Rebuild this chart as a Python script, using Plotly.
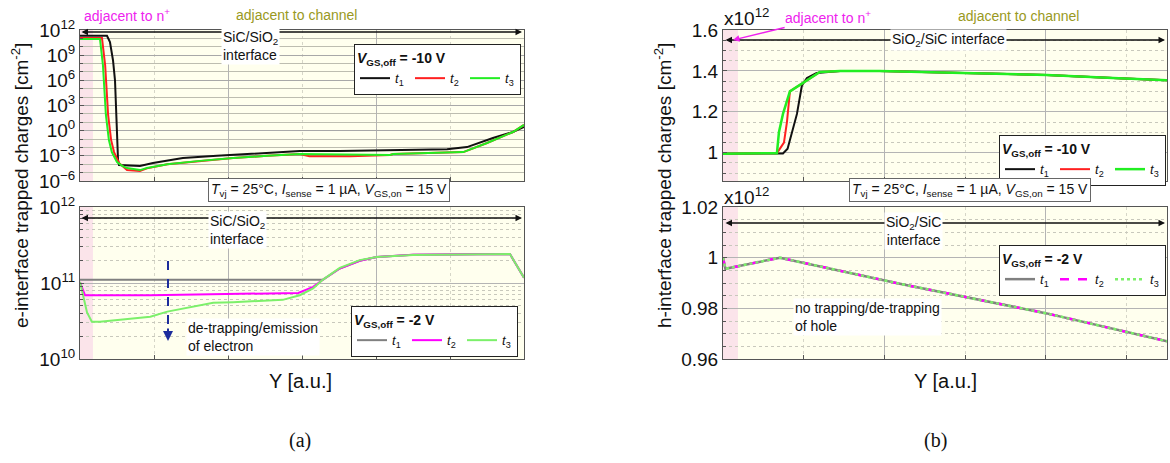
import plotly.graph_objects as go

W, H = 1170, 463
def px(x): return x / W
def py(y): return 1 - y / H

FONT = "Liberation Sans"

# ---------------- (a) upper panel: V_GS,off = -10 V (e-interface trapped charges, cm^-2)
a1_t1_x = [0.0, 0.365, 0.405, 0.446, 0.473, 0.493, 0.514, 0.527, 0.81, 0.986, 1.39, 1.85, 2.53, 2.97, 3.51, 4.96, 5.23, 5.58, 5.85, 6.0]
a1_t1_y = [2.0e11, 2.0e11, 3.7e10, 2.5e8, 1.0e6, 20.0, 3.2e-4, 8.0e-5, 6.3e-5, 1.4e-4, 5.6e-4, 1.0e-3, 2.2e-3, 3.8e-3, 3.8e-3, 6.3e-3, 1.1e-2, 0.135, 0.69, 2.75]
a1_t2_x = [0.0, 0.297, 0.34, 0.38, 0.42, 0.46, 0.527, 0.635, 0.81, 0.905, 1.18, 1.62, 2.07, 2.53, 2.97, 3.1, 3.65, 4.19, 4.23, 5.18, 5.5, 5.85, 6.0]
a1_t2_y = [1.1e11, 1.1e11, 6.3e7, 74.0, 0.08, 2.8e-3, 1.4e-4, 2.0e-5, 1.6e-5, 3.2e-5, 1.0e-4, 2.5e-4, 5.6e-4, 1.0e-3, 1.6e-3, 0.9e-3, 0.9e-3, 1.26e-3, 1.6e-3, 2.8e-3, 3.4e-2, 0.69, 4.8]
a1_t3_x = [0.0, 0.27, 0.31, 0.35, 0.39, 0.43, 0.5, 0.57, 0.635, 0.81, 0.905, 1.18, 1.62, 2.07, 2.53, 2.97, 4.19, 4.23, 5.18, 5.5, 5.85, 6.0]
a1_t3_y = [8.5e10, 8.5e10, 6.3e7, 74.0, 0.08, 2.8e-3, 1.8e-4, 6.3e-5, 3.5e-5, 2.0e-5, 3.5e-5, 1.0e-4, 2.5e-4, 5.6e-4, 1.0e-3, 1.6e-3, 1.26e-3, 1.6e-3, 2.8e-3, 3.4e-2, 0.69, 4.8]

# ---------------- (a) lower panel: V_GS,off = -2 V
a2_t1_x = [0.0, 3.28, 3.51, 3.78, 4.01, 4.5, 5.81, 6.0]
a2_t1_y = [1.1e11, 1.1e11, 1.55e11, 1.96e11, 2.2e11, 2.36e11, 2.4e11, 1.17e11]
a2_t2_x = [0.0, 0.068, 0.95, 2.3, 2.95, 3.15, 3.28, 3.51, 3.78, 4.01, 4.5, 5.81, 6.0]
a2_t2_y = [1.03e11, 6.9e10, 6.9e10, 7.2e10, 7.4e10, 8.9e10, 1.1e11, 1.55e11, 1.96e11, 2.2e11, 2.36e11, 2.4e11, 1.17e11]
a2_t3_x = [0.0, 0.095, 0.16, 0.27, 0.95, 1.18, 1.8, 2.07, 2.74, 2.97, 3.15, 3.28, 3.51, 3.78, 4.01, 4.5, 5.81, 6.0]
a2_t3_y = [1.03e11, 4.1e10, 3.1e10, 3.1e10, 3.6e10, 4.2e10, 5.5e10, 5.6e10, 6.0e10, 6.9e10, 8.5e10, 1.1e11, 1.58e11, 2.0e11, 2.2e11, 2.34e11, 2.4e11, 1.17e11]

# ---------------- (b) upper panel: V_GS,off = -10 V (h-interface trapped charges, x10^12 cm^-2)
b1_t1_x = [0.0, 0.743, 0.80, 0.866, 0.916, 0.978, 1.04, 1.16, 1.45, 1.94, 2.97, 4.01, 4.83, 5.5]
b1_t1_y = [0.995, 0.997, 1.02, 1.11, 1.19, 1.33, 1.365, 1.39, 1.40, 1.40, 1.39, 1.38, 1.366, 1.355]
b1_t2_x = [0.0, 0.668, 0.755, 0.792, 0.829, 0.99, 1.2, 1.45, 1.94, 2.97, 4.01, 4.83, 5.5]
b1_t2_y = [0.995, 0.998, 1.05, 1.15, 1.30, 1.34, 1.395, 1.40, 1.40, 1.39, 1.38, 1.366, 1.355]
b1_t3_x = [0.0, 0.668, 0.693, 0.743, 0.829, 0.99, 1.2, 1.45, 1.94, 2.97, 4.01, 4.83, 5.5]
b1_t3_y = [0.995, 0.998, 1.10, 1.19, 1.30, 1.34, 1.395, 1.40, 1.40, 1.39, 1.38, 1.366, 1.355]

# ---------------- (b) lower panel: V_GS,off = -2 V
b2_t1_x = [0.0, 0.03, 0.705, 1.94, 2.19, 4.01, 5.5]
b2_t1_y = [1.0, 0.9956, 1.0, 0.9915, 0.9897, 0.978, 0.967]
b2_t2_x = [0.0, 0.03, 0.705, 1.94, 2.19, 4.01, 5.5]
b2_t2_y = [1.0, 0.9956, 1.0, 0.9915, 0.9897, 0.978, 0.967]
b2_t3_x = [0.0, 0.03, 0.705, 1.94, 2.19, 4.01, 5.5]
b2_t3_y = [1.0, 0.9956, 1.0, 0.9915, 0.9897, 0.978, 0.967]

t_names = ["<i>t</i><sub>1</sub>", "<i>t</i><sub>2</sub>", "<i>t</i><sub>3</sub>"]

fig = go.Figure()

def add(x, y, name, color, dash, width, xa, ya, leg):
    fig.add_trace(go.Scatter(x=x, y=y, mode="lines", name=name,
                             line=dict(color=color, dash=dash, width=width),
                             xaxis=xa, yaxis=ya, legend=leg, hoverinfo="skip"))

add(a1_t1_x, a1_t1_y, t_names[0], "#111111", "solid", 2, "x", "y", "legend")
add(a1_t2_x, a1_t2_y, t_names[1], "#ff2020", "solid", 2, "x", "y", "legend")
add(a1_t3_x, a1_t3_y, t_names[2], "#22ee22", "solid", 2, "x", "y", "legend")

add(a2_t1_x, a2_t1_y, t_names[0], "#808080", "solid", 2, "x2", "y2", "legend2")
add(a2_t2_x, a2_t2_y, t_names[1], "#ff00ff", "solid", 2, "x2", "y2", "legend2")
add(a2_t3_x, a2_t3_y, t_names[2], "#7cf06a", "solid", 2, "x2", "y2", "legend2")

add(b1_t1_x, b1_t1_y, t_names[0], "#111111", "solid", 2, "x3", "y3", "legend3")
add(b1_t2_x, b1_t2_y, t_names[1], "#ff2020", "solid", 2, "x3", "y3", "legend3")
add(b1_t3_x, b1_t3_y, t_names[2], "#22ee22", "solid", 2.5, "x3", "y3", "legend3")

add(b2_t1_x, b2_t1_y, t_names[0], "#808080", "solid", 2.5, "x4", "y4", "legend4")
add(b2_t2_x, b2_t2_y, t_names[1], "#ff00ff", "dash", 2.5, "x4", "y4", "legend4")
add(b2_t3_x, b2_t3_y, t_names[2], "#7cf06a", "dot", 2.5, "x4", "y4", "legend4")

axbase = dict(showline=True, linecolor="#555555", linewidth=1, mirror=True, automargin=False,
              showgrid=True, gridcolor="#b4b4b4", gridwidth=1, zeroline=False,
              ticks="inside", ticklen=4, tickcolor="#555555",
              tickfont=dict(family=FONT, size=19, color="#111111"))

def xaxis(dom, rng, anchor):
    d = dict(axbase)
    d.update(domain=dom, range=rng, anchor=anchor, showticklabels=False,
             tick0=0, dtick=2,
             minor=dict(dtick=1, ticks="inside", ticklen=4, tickcolor="#555555",
                        showgrid=True, gridcolor="#d6d6c8", griddash="dot"))
    return d

LX = [px(80), px(524)]
RX = [px(723), px(1167)]
TOPY = [py(181), py(30)]
BOTY = [py(359), py(207)]

layout = dict(
    width=W, height=H, margin=dict(l=0, r=0, t=0, b=0, autoexpand=False),
    paper_bgcolor="white", plot_bgcolor="#ffffee",
    font=dict(family=FONT, color="#111111"),
    xaxis=xaxis(LX, [0, 6], "y"),
    xaxis2=xaxis(LX, [0, 6], "y2"),
    xaxis3=xaxis(RX, [0, 5.5], "y3"),
    xaxis4=xaxis(RX, [0, 5.5], "y4"),
)

yt1 = dict(axbase)
yt1.update(domain=TOPY, anchor="x", type="log", range=[-6, 12],
           tickvals=[1e-6, 1e-3, 1, 1e3, 1e6, 1e9, 1e12],
           ticktext=["10<sup>−6</sup>", "10<sup>−3</sup>", "10<sup>0</sup>", "10<sup>3</sup>",
                     "10<sup>6</sup>", "10<sup>9</sup>", "10<sup>12</sup>"],
           gridcolor="#a8a8a8",
           minor=dict(dtick=1, showgrid=True, gridcolor="#bdbdb0", ticks="inside", ticklen=3, tickcolor="#555555"))
yb1 = dict(axbase)
yb1.update(domain=BOTY, anchor="x2", type="log", range=[10, 12],
           tickvals=[1e10, 1e11, 1e12],
           ticktext=["10<sup>10</sup>", "10<sup>11</sup>", "10<sup>12</sup>"],
           minor=dict(dtick="D1", showgrid=True, gridcolor="#c8c8bc", griddash="dot", ticks="inside", ticklen=3, tickcolor="#555555"))
yt2 = dict(axbase)
yt2.update(domain=TOPY, anchor="x3", range=[0.862, 1.6],
           tickvals=[1.0, 1.2, 1.4, 1.6], ticktext=["1", "1.2", "1.4", "1.6"],
           minor=dict(dtick=0.05, tick0=0, showgrid=True, gridcolor="#c8c8bc", griddash="dot", ticks="inside", ticklen=3, tickcolor="#555555"))
yb2 = dict(axbase)
yb2.update(domain=BOTY, anchor="x4", range=[0.96, 1.02],
           tickvals=[0.96, 0.98, 1.0, 1.02], ticktext=["0.96", "0.98", "1", "1.02"],
           minor=dict(dtick=0.005, tick0=0, showgrid=True, gridcolor="#c8c8bc", griddash="dot", ticks="inside", ticklen=3, tickcolor="#555555"))
layout.update(yaxis=yt1, yaxis2=yb1, yaxis3=yt2, yaxis4=yb2)

def legend(x, y, title):
    return dict(orientation="h", x=x, y=y, xanchor="right", yanchor="top", xref="paper", yref="paper",
                bgcolor="white", bordercolor="#222222", borderwidth=1,
                font=dict(family=FONT, size=13, color="#111111"),
                itemwidth=30, tracegroupgap=0, entrywidth=10, entrywidthmode="pixels",
                title=dict(text=title, side="top", font=dict(family=FONT, size=14, color="#111111")))

v10 = "<b><i>V</i><sub>GS,off</sub> = -10 V</b>"
v2 = "<b><i>V</i><sub>GS,off</sub> = -2 V</b>"
layout.update(
    legend=legend(px(521), py(44), v10),
    legend2=legend(px(518), py(306), v2),
    legend3=legend(px(1166), py(135), v10),
    legend4=legend(px(1166), py(245), v2),
)

shapes = [
    dict(type="rect", xref="x", yref="y domain", x0=0, x1=0.175, y0=0, y1=1,
         fillcolor="#fbe4ea", line=dict(width=0), layer="below"),
    dict(type="rect", xref="x2", yref="y2 domain", x0=0, x1=0.175, y0=0, y1=1,
         fillcolor="#fbe4ea", line=dict(width=0), layer="below"),
    dict(type="rect", xref="x3", yref="y3 domain", x0=0, x1=0.185, y0=0, y1=1,
         fillcolor="#fbe4ea", line=dict(width=0), layer="below"),
    dict(type="rect", xref="x4", yref="y4 domain", x0=0, x1=0.185, y0=0, y1=1,
         fillcolor="#fbe4ea", line=dict(width=0), layer="below"),
    # dashed blue arrow shaft
    dict(type="line", xref="paper", yref="paper", x0=px(168), x1=px(168), y0=py(261), y1=py(332),
         line=dict(color="#1c2c9c", width=2, dash="dash")),
]
layout["shapes"] = shapes

ann = []
def text(x, y, s, size=14, color="#111111", xanchor="center", yanchor="middle", bg=None, align="left",
         border=None, angle=0, family=FONT):
    a = dict(x=px(x), y=py(y), xref="paper", yref="paper", text=s, showarrow=False,
             xanchor=xanchor, yanchor=yanchor, align=align, textangle=angle,
             font=dict(family=family, size=size, color=color))
    if bg:
        a["bgcolor"] = bg
    if border:
        a.update(bordercolor=border, borderwidth=1, borderpad=2)
    ann.append(a)

def dbl_arrow(x0, x1, y):
    ann.append(dict(x=px(x1), y=py(y), xref="paper", yref="paper", ax=x0 - x1, ay=0,
                    axref="pixel", ayref="pixel", text="", showarrow=True,
                    arrowhead=2, startarrowhead=2, arrowside="end+start",
                    arrowsize=1, arrowwidth=1.3, arrowcolor="#111111"))

# interface arrows
dbl_arrow(80, 522, 32)
dbl_arrow(80, 522, 218)
dbl_arrow(724, 1165, 40)
dbl_arrow(724, 1165, 223)

# (a) texts
text(82, 15, "adjacent to n<sup>+</sup>", 14, "#ee22ee", xanchor="left")
text(296, 15, "adjacent to channel", 14, "#999922")
text(221, 27, "SiC/SiO<sub>2</sub><br>interface", 14, xanchor="left", yanchor="top", bg="white")
text(208, 211, "SiC/SiO<sub>2</sub><br>interface", 14, xanchor="left", yanchor="top", bg="white")
text(186, 318, "de-trapping/emission<br>of electron", 14, xanchor="left", yanchor="top", bg="white")
text(329, 190, "<i>T</i><sub>vj</sub> = 25°C, <i>I</i><sub>sense</sub> = 1 µA, <i>V</i><sub>GS,on</sub> = 15 V",
     14, bg="white", border="#666666")
# blue arrow head
ann.append(dict(x=px(168), y=py(341), xref="paper", yref="paper", ax=0, ay=-14, axref="pixel", ayref="pixel",
                text="", showarrow=True, arrowhead=2, arrowsize=1, arrowwidth=2, arrowcolor="#1c2c9c"))

# (b) texts
text(722, 17, "x10<sup>12</sup>", 19, xanchor="left")
text(722, 196, "x10<sup>12</sup>", 19, xanchor="left")
ann.append(dict(x=px(733), y=py(40), xref="paper", yref="paper", ax=95, ay=-23, axref="pixel", ayref="pixel",
                text="adjacent to n<sup>+</sup>", showarrow=True, arrowhead=2, arrowsize=1, arrowwidth=1.3,
                arrowcolor="#ee22ee", font=dict(family=FONT, size=14, color="#ee22ee")))
text(1018, 16, "adjacent to channel", 14, "#999922")
text(948, 40, "SiO<sub>2</sub>/SiC interface", 14, bg="white")
text(884, 212, "SiO<sub>2</sub>/SiC<br>interface", 14, xanchor="left", yanchor="top", bg="white", align="center")
text(793, 298, "no trapping/de-trapping<br>of hole", 14, xanchor="left", yanchor="top", bg="white")
text(970, 190, "<i>T</i><sub>vj</sub> = 25°C, <i>I</i><sub>sense</sub> = 1 µA, <i>V</i><sub>GS,on</sub> = 15 V",
     14, bg="white", border="#666666")

# axis titles
text(20, 186, "e-interface trapped charges [cm<sup>-2</sup>]", 19, angle=-90)
text(663, 186, "h-interface trapped charges [cm<sup>-2</sup>]", 19, angle=-90)
text(301, 381, "Y [a.u.]", 20)
text(945, 381, "Y [a.u.]", 20)
text(300, 440, "(a)", 20, family="Liberation Serif")
text(935, 440, "(b)", 20, family="Liberation Serif")

layout["annotations"] = ann
fig.update_layout(**layout)
fig.write_html("out.html")
